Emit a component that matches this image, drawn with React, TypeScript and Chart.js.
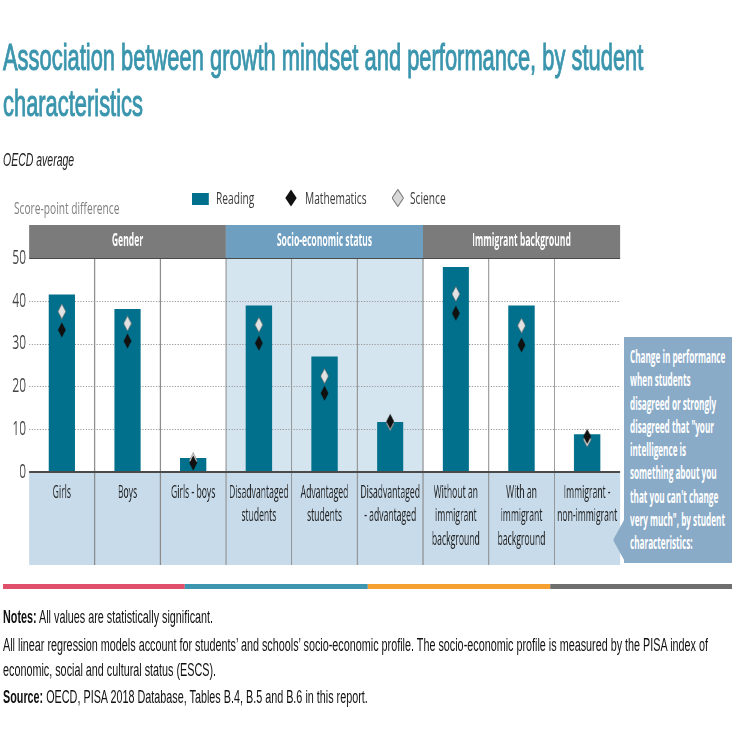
import React, { useEffect, useRef } from "react";
import { Chart, registerables } from "chart.js";

Chart.register(...registerables);

// The whole figure is laid out on a wide canvas and compressed horizontally.
const SX = 0.6;
const W = 1240;
const H = 746;
const dx = (v: number) => v / SX;

const FONT_UI = "'Open Sans', 'Noto Sans', sans-serif";
const FONT_TEXT = "'Liberation Sans', Arial, sans-serif";

const categories: string[][] = [
  ["Girls"],
  ["Boys"],
  ["Girls - boys"],
  ["Disadvantaged", "students"],
  ["Advantaged", "students"],
  ["Disadvantaged", "- advantaged"],
  ["Without an", "immigrant", "background"],
  ["With an", "immigrant", "background"],
  ["Immigrant -", "non-immigrant"],
];
const groups = ["Gender", "Socio-economic status", "Immigrant background"];
const groupSizes = [3, 3, 3];

const reading = [41.5, 38.1, 3.3, 38.9, 27.0, 11.7, 47.9, 38.9, 8.8];
const mathematics = [33.2, 30.6, 2.1, 30.1, 18.4, 11.8, 37.1, 29.7, 8.3];
const science = [37.5, 34.7, 2.7, 34.4, 22.4, 11.4, 41.6, 34.2, 7.6];
const yTicks = [0, 10, 20, 30, 40, 50];

const calloutLines = [
  "Change in performance",
  "when students",
  "disagreed or strongly",
  "disagreed that \"your",
  "intelligence is",
  "something about you",
  "that you can't change",
  "very much\", by student",
  "characteristics:",
];

const COLORS = {
  reading: "#00708c",
  headerGray: "#7b7b7b",
  headerBlue: "#6e9fc0",
  plotBlue: "#d5e5f0",
  labelStrip: "#c7dbeb",
  callout: "#8aabc7",
  title: "#3a95ad",
};

function diamond(w: number, h: number, fill: string, stroke?: string) {
  const c = document.createElement("canvas");
  c.width = w;
  c.height = h;
  const g = c.getContext("2d")!;
  g.beginPath();
  g.moveTo(w / 2, 0.5);
  g.lineTo(w - 0.5, h / 2);
  g.lineTo(w / 2, h - 0.5);
  g.lineTo(0.5, h / 2);
  g.closePath();
  g.fillStyle = fill;
  g.fill();
  if (stroke) {
    g.strokeStyle = stroke;
    g.lineWidth = 1;
    g.stroke();
  }
  return c;
}

function narrowText(
  ctx: CanvasRenderingContext2D,
  text: string,
  x: number,
  y: number,
  font: string,
  color: string,
  sx: number
) {
  ctx.save();
  ctx.translate(x, y);
  ctx.scale(sx, 1);
  ctx.font = font;
  ctx.fillStyle = color;
  ctx.textAlign = "center";
  ctx.textBaseline = "middle";
  ctx.fillText(text, 0, 0);
  ctx.restore();
}

const framePlugin = {
  id: "frame",
  beforeDatasetsDraw(chart: any) {
    const { ctx, chartArea: a, scales } = chart;
    const xs = scales.x;
    const ys = scales.y;
    const n = chart.data.labels.length;
    const bw = (a.right - a.left) / n;
    ctx.save();
    // column backgrounds per group
    let start = 0;
    groupSizes.forEach((size, g) => {
      const x0 = a.left + start * bw;
      ctx.fillStyle = g === 1 ? COLORS.plotBlue : "#ffffff";
      ctx.fillRect(x0, a.top, size * bw, a.bottom - a.top);
      start += size;
    });
    // category label strip
    ctx.fillStyle = COLORS.labelStrip;
    ctx.fillRect(a.left, a.bottom, a.right - a.left, xs.bottom - a.bottom);
    // dotted gridlines
    ctx.strokeStyle = "#9a9a9a";
    ctx.lineWidth = 1.2;
    ctx.setLineDash([2, 2.5]);
    yTicks.forEach((v) => {
      if (v <= 0 || v >= 50) return;
      const py = Math.round(ys.getPixelForValue(v)) + 0.5;
      ctx.beginPath();
      ctx.moveTo(a.left, py);
      ctx.lineTo(a.right, py);
      ctx.stroke();
    });
    ctx.setLineDash([]);
    // column separators
    ctx.strokeStyle = "#8a8a8a";
    ctx.lineWidth = 1.7;
    for (let i = 1; i < n; i++) {
      const px = a.left + i * bw;
      ctx.beginPath();
      ctx.moveTo(px, a.top);
      ctx.lineTo(px, xs.bottom);
      ctx.stroke();
    }
    ctx.restore();
  },
  afterDatasetsDraw(chart: any) {
    const { ctx, chartArea: a, scales } = chart;
    const ys = scales.y;
    ctx.save();
    ctx.strokeStyle = "#4a4a4a";
    ctx.lineWidth = 2;
    [0, 50].forEach((v) => {
      const py = ys.getPixelForValue(v);
      ctx.beginPath();
      ctx.moveTo(a.left, py);
      ctx.lineTo(a.right, py);
      ctx.stroke();
    });
    ctx.restore();
  },
  afterDraw(chart: any) {
    const { ctx, chartArea: a, scales } = chart;
    const xs = scales.x;
    const n = chart.data.labels.length;
    const bw = (a.right - a.left) / n;
    ctx.save();
    // group header bands
    const bandH = 33;
    let start = 0;
    groupSizes.forEach((size, g) => {
      const x0 = a.left + start * bw;
      ctx.fillStyle = g === 1 ? COLORS.headerBlue : COLORS.headerGray;
      ctx.fillRect(x0, a.top - bandH, size * bw, bandH);
      narrowText(
        ctx,
        groups[g],
        x0 + (size * bw) / 2,
        a.top - bandH / 2,
        `bold 17px ${FONT_UI}`,
        "#ffffff",
        0.84
      );
      start += size;
    });
    // category labels under each column
    chart.data.labels.forEach((lab: string[], i: number) => {
      const cx = xs.getPixelForValue(i);
      lab.forEach((line, j) => {
        narrowText(ctx, line, cx, a.bottom + 21 + j * 23.5, `17.5px ${FONT_UI}`, "#222222", 0.82);
      });
    });
    ctx.restore();
  },
};

export default function App() {
  const ref = useRef<HTMLCanvasElement>(null);

  useEffect(() => {
    const canvas = ref.current!;
    const mathMark = diamond(14, 16, "#111111");
    const sciMark = diamond(14, 16, "#e2e2e2", "#6a6a6a");
    const chart = new Chart(canvas, {
      type: "bar",
      data: {
        labels: categories as any,
        datasets: [
          {
            type: "line",
            label: "Mathematics",
            data: mathematics,
            showLine: false,
            pointStyle: mathMark as any,
            pointRadius: 6,
            order: 0,
          } as any,
          {
            type: "line",
            label: "Science",
            data: science,
            showLine: false,
            pointStyle: sciMark as any,
            pointRadius: 6,
            order: 1,
          } as any,
          {
            type: "bar",
            label: "Reading",
            data: reading,
            backgroundColor: COLORS.reading,
            barPercentage: 0.4,
            categoryPercentage: 1,
            order: 2,
          },
        ],
      },
      options: {
        responsive: false,
        animation: false,
        events: [],
        layout: { padding: { left: 0, right: W - dx(620), top: 258, bottom: H - 565 } },
        plugins: { legend: { display: false }, tooltip: { enabled: false } },
        scales: {
          x: {
            offset: true,
            grid: { display: false },
            border: { display: false },
            ticks: { display: false },
            afterFit: (s: any) => {
              s.height = 93;
            },
          },
          y: {
            min: 0,
            max: 50,
            grid: { display: false, drawTicks: false, tickLength: 0 },
            border: { display: false },
            ticks: {
              stepSize: 10,
              padding: 5,
              color: "#444444",
              font: { family: FONT_UI, size: 20 },
            },
            afterFit: (s: any) => {
              s.width = dx(29);
            },
          },
        },
      },
      plugins: [framePlugin],
    });
    return () => chart.destroy();
  }, []);

  const abs = (left: number, top: number, extra: React.CSSProperties = {}): React.CSSProperties => ({
    position: "absolute",
    left,
    top,
    whiteSpace: "nowrap",
    ...extra,
  });

  const legendDiamond = (fill: string, stroke?: string) => (
    <svg width={20} height={18} style={{ display: "block" }}>
      <polygon
        points="10,0.5 19.5,9 10,17.5 0.5,9"
        fill={fill}
        stroke={stroke || "none"}
        strokeWidth={1.4}
      />
    </svg>
  );

  const uiText: React.CSSProperties = { fontFamily: FONT_UI, fontSize: 17, lineHeight: "24px", color: "#3a3a3a" };
  const noteText: React.CSSProperties = { fontFamily: FONT_TEXT, fontSize: 18, color: "#111" };

  return (
    <div
      style={{
        position: "absolute",
        left: 0,
        top: 0,
        width: W,
        height: H,
        transform: `scaleX(${SX})`,
        transformOrigin: "0 0",
        background: "#ffffff",
        overflow: "hidden",
      }}
    >
      <canvas ref={ref} width={W} height={H} style={{ position: "absolute", left: 0, top: 0 }} />

      <div
        style={abs(dx(3), 35.4, {
          fontFamily: FONT_TEXT,
          fontSize: 36.5,
          lineHeight: "46px",
          color: COLORS.title,
          WebkitTextStroke: `1px ${COLORS.title}`,
        })}
      >
        Association between growth mindset and performance, by student
        <br />
        characteristics
      </div>

      <div style={abs(dx(3), 150, { fontFamily: FONT_TEXT, fontSize: 17.5, lineHeight: "20px", fontStyle: "italic", color: "#222" })}>
        OECD average
      </div>

      {/* legend */}
      <div style={abs(dx(192), 193, { width: dx(17), height: 12, background: COLORS.reading })} />
      <div style={abs(dx(216), 186, uiText)}>Reading</div>
      <div style={abs(dx(285), 189)}>{legendDiamond("#111111")}</div>
      <div style={abs(dx(305), 186, uiText)}>Mathematics</div>
      <div style={abs(dx(392), 189)}>{legendDiamond("#d9d9d9", "#7a7a7a")}</div>
      <div style={abs(dx(410), 186, uiText)}>Science</div>

      <div style={abs(dx(14), 196, { ...uiText, color: "#808080" })}>Score-point difference</div>

      {/* explanatory callout */}
      <div
        style={abs(dx(613), 518, {
          width: dx(11) + 2,
          height: 44,
          background: COLORS.callout,
          clipPath: "polygon(100% 0, 0 50%, 100% 100%)",
        })}
      />
      <div style={abs(dx(624), 337, { width: dx(108), height: 226, background: COLORS.callout })} />
      <div
        style={abs(dx(630), 345, {
          fontFamily: FONT_UI,
          fontWeight: 700,
          fontSize: 17,
          lineHeight: "23.3px",
          color: "#ffffff",
          transform: "scaleX(0.8)",
          transformOrigin: "0 0",
        })}
      >
        {calloutLines.map((l, i) => (
          <div key={i}>{l}</div>
        ))}
      </div>

      {/* colour strip */}
      <div style={abs(dx(3), 584, { width: dx(182), height: 5, background: "#e0506a" })} />
      <div style={abs(dx(185), 584, { width: dx(183), height: 5, background: "#3d95b0" })} />
      <div style={abs(dx(368), 584, { width: dx(182), height: 5, background: "#f5a030" })} />
      <div style={abs(dx(550), 584, { width: dx(182), height: 5, background: "#6f6f6f" })} />

      {/* notes */}
      <div style={abs(dx(3), 604, { ...noteText, lineHeight: "26px" })}>
        <b>Notes:</b> All values are statistically significant.
      </div>
      <div style={abs(dx(3), 632.5, { ...noteText, lineHeight: "25px" })}>
        All linear regression models account for students’ and schools’ socio-economic profile. The socio-economic profile is measured by the PISA index of
        <br />
        economic, social and cultural status (ESCS).
      </div>
      <div style={abs(dx(3), 684, { ...noteText, lineHeight: "26px" })}>
        <b>Source:</b> OECD, PISA 2018 Database, Tables B.4, B.5 and B.6 in this report.
      </div>
    </div>
  );
}
